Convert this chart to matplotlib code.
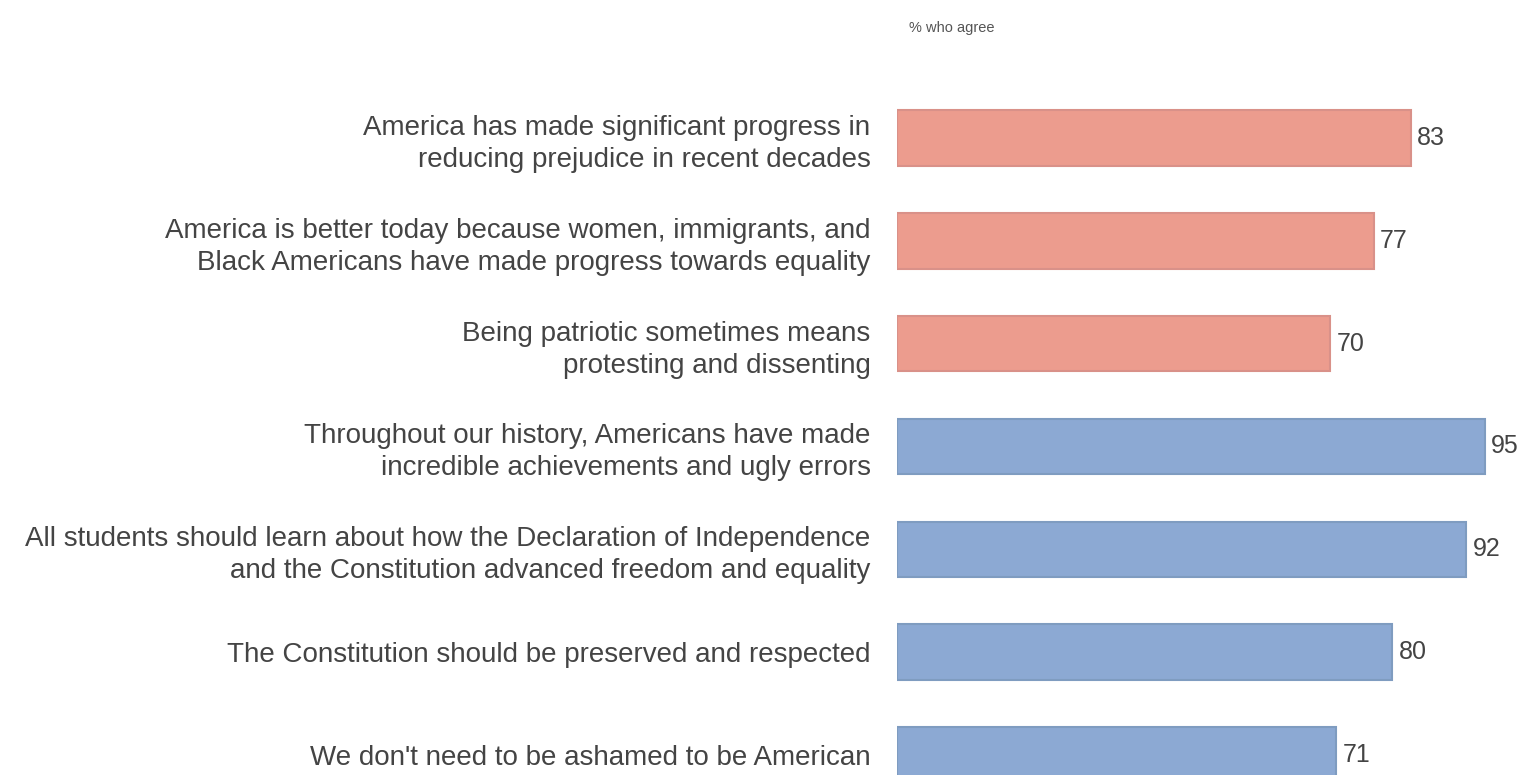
import matplotlib
matplotlib.use("Agg")
import matplotlib.pyplot as plt

plt.rcParams['font.family'] = ['Liberation Sans', 'DejaVu Sans']

statements = [
    "America has made significant progress in\nreducing prejudice in recent decades",
    "America is better today because women, immigrants, and\nBlack Americans have made progress towards equality",
    "Being patriotic sometimes means\nprotesting and dissenting",
    "Throughout our history, Americans have made\nincredible achievements and ugly errors",
    "All students should learn about how the Declaration of Independence\nand the Constitution advanced freedom and equality",
    "The Constitution should be preserved and respected",
    "We don't need to be ashamed to be American",
]
agree = [83, 77, 70, 95, 92, 80, 71]
groups = ["red", "red", "red", "blue", "blue", "blue", "blue"]

fill = {"red": "#EC9C8E", "blue": "#8CA9D3"}
edge = {"red": "#D99189", "blue": "#7F9CC0"}

fig = plt.figure(figsize=(15.23, 7.75), dpi=100)
ax = fig.add_axes([897 / 1523, 0, (1516 - 897) / 1523, 1])

ypos = list(range(len(statements)))
for y, v, g in zip(ypos, agree, groups):
    ax.barh(y, v, height=0.54, color=fill[g], edgecolor=edge[g], linewidth=1.5)
    ax.text(v + 1.0, y, str(v), va="center", ha="left", fontsize=18, color="#444444")

ax.set_xlim(0, 100)
ax.set_ylim(6.195, -1.342)
ax.set_yticks(ypos)
ax.set_yticklabels(statements, fontsize=20, color="#444444", linespacing=1.3)
ax.tick_params(axis="y", length=0, pad=19)
ax.set_xticks([])
for s in ax.spines.values():
    s.set_visible(False)

ax.text(2, -1.07, "% who agree", fontsize=10.5, color="#555555", va="center", ha="left")

fig.savefig("out.png", dpi=100)
